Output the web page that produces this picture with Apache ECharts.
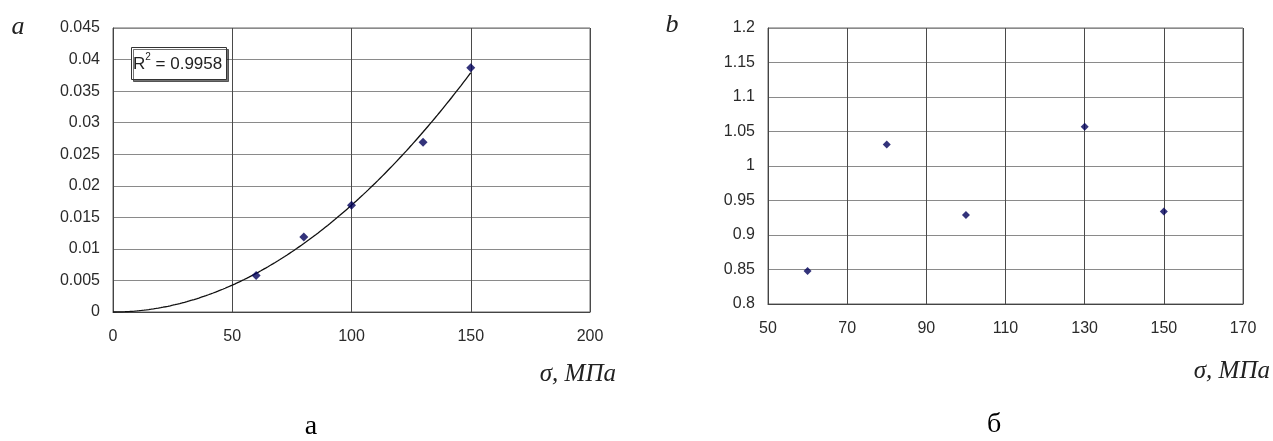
<!DOCTYPE html>
<html>
<head>
<meta charset="utf-8">
<script src="https://cdn.jsdelivr.net/npm/echarts@6/dist/echarts.min.js"></script>
<style>
  html, body { margin: 0; padding: 0; background: #fff; }
  #chart { width: 1273px; height: 441px; }
</style>
</head>
<body>
<div id="chart"></div>
<script>
// Panel a: deformation vs stress, with power-law trend line
const stressA = [60, 80, 100, 130, 150];
const strainA = [0.0058, 0.0119, 0.0169, 0.0269, 0.0387];
const r2Label = '0.9958';

// Panel b: ratio vs stress
const stressB = [60, 80, 100, 130, 150];
const ratioB = [0.848, 1.031, 0.929, 1.057, 0.934];

// Axis ranges / tick steps
const xA = { min: 0, max: 200, interval: 50 };
const yA = { min: 0, max: 0.045, interval: 0.005 };
const xB = { min: 50, max: 170, interval: 20 };
const yB = { min: 0.8, max: 1.2, interval: 0.05 };

// Least-squares power fit y = a * x^b (in log space)
function powerFit(xs, ys) {
  const lx = xs.map(Math.log), ly = ys.map(Math.log);
  const n = xs.length;
  const mx = lx.reduce((s, v) => s + v, 0) / n;
  const my = ly.reduce((s, v) => s + v, 0) / n;
  let sxy = 0, sxx = 0;
  for (let i = 0; i < n; i++) { sxy += (lx[i] - mx) * (ly[i] - my); sxx += (lx[i] - mx) ** 2; }
  const b = sxy / sxx;
  const a = Math.exp(my - b * mx);
  return { a, b };
}
const fit = powerFit(stressA, strainA);
const xEnd = Math.max(...stressA);
const trend = [];
for (let x = 0; x <= xEnd; x += 1) trend.push([x, fit.a * Math.pow(x, fit.b)]);

const tickFont = { fontFamily: 'Liberation Sans, Arial, sans-serif', fontSize: 16, color: '#2a2a2a' };
const serif = 'Liberation Serif, Times New Roman, serif';
const hGrid = { show: true, lineStyle: { color: '#8a8a8a', width: 1 } };
const vGrid = { show: true, lineStyle: { color: '#4a4a4a', width: 1 } };
const axisLn = { show: true, lineStyle: { color: '#444', width: 1 } };
const markColor = '#00005a';

function xAxis(idx, r) {
  return {
    type: 'value', gridIndex: idx, min: r.min, max: r.max, interval: r.interval,
    axisLine: axisLn, axisTick: { show: false }, splitLine: vGrid,
    axisLabel: Object.assign({ margin: 17, formatter: v => String(+v.toFixed(3)) }, tickFont)
  };
}
function yAxis(idx, r) {
  return {
    type: 'value', gridIndex: idx, min: r.min, max: r.max, interval: r.interval,
    axisLine: axisLn, axisTick: { show: false }, splitLine: hGrid,
    axisLabel: Object.assign({ margin: 13, formatter: v => String(+v.toFixed(3)) }, tickFont)
  };
}

const chart = echarts.init(document.getElementById('chart'), null, { renderer: 'canvas' });
chart.setOption({
  backgroundColor: '#fff',
  animation: false,
  grid: [
    { left: 113, top: 28, width: 477, height: 284, show: true, borderColor: '#666', borderWidth: 1, backgroundColor: '#fff' },
    { left: 768, top: 28, width: 475, height: 276, show: true, borderColor: '#666', borderWidth: 1, backgroundColor: '#fff' }
  ],
  xAxis: [xAxis(0, xA), xAxis(1, xB)],
  yAxis: [yAxis(0, yA), yAxis(1, yB)],
  series: [
    {
      type: 'line', xAxisIndex: 0, yAxisIndex: 0, data: trend, showSymbol: false,
      lineStyle: { color: '#111', width: 1.3 }, z: 3
    },
    {
      type: 'scatter', xAxisIndex: 0, yAxisIndex: 0,
      data: stressA.map((x, i) => [x, strainA[i]]),
      symbol: 'diamond', symbolSize: 9, itemStyle: { color: markColor }, z: 4
    },
    {
      type: 'scatter', xAxisIndex: 1, yAxisIndex: 1,
      data: stressB.map((x, i) => [x, ratioB[i]]),
      symbol: 'diamond', symbolSize: 8, itemStyle: { color: markColor }, z: 4
    }
  ],
  graphic: [
    // R² box
    {
      type: 'rect', left: 131, top: 47, z: 10,
      shape: { width: 95, height: 32 },
      style: { fill: '#fff', stroke: '#333', lineWidth: 1, shadowColor: 'rgba(0,0,0,0.55)', shadowOffsetX: 2, shadowOffsetY: 2, shadowBlur: 0 }
    },
    {
      type: 'text', left: 133, top: 52, z: 11,
      style: {
        text: '{r|R}{s|2}{r| = ' + r2Label + '}',
        rich: {
          r: { fontFamily: 'Liberation Sans, Arial, sans-serif', fontSize: 17, fill: '#222', verticalAlign: 'bottom', lineHeight: 21 },
          s: { fontFamily: 'Liberation Sans, Arial, sans-serif', fontSize: 10, fill: '#222', verticalAlign: 'top', lineHeight: 21, padding: [0, 0, 9, 0] }
        }
      }
    },
    // Panel letters
    { type: 'text', x: 18, y: 27, style: { text: 'a', font: 'italic 26px ' + serif, fill: '#222', align: 'center', verticalAlign: 'middle' } },
    { type: 'text', x: 672, y: 25, style: { text: 'b', font: 'italic 26px ' + serif, fill: '#222', align: 'center', verticalAlign: 'middle' } },
    // Axis names
    { type: 'text', x: 616, y: 374, style: { text: 'σ, МПа', font: 'italic 25px ' + serif, fill: '#222', align: 'right', verticalAlign: 'middle' } },
    { type: 'text', x: 1270, y: 371, style: { text: 'σ, МПа', font: 'italic 25px ' + serif, fill: '#222', align: 'right', verticalAlign: 'middle' } },
    // Sub-figure captions
    { type: 'text', x: 311, y: 427, style: { text: 'а', font: '28px ' + serif, fill: '#000', align: 'center', verticalAlign: 'middle' } },
    { type: 'text', x: 994, y: 425, style: { text: 'б', font: '28px ' + serif, fill: '#000', align: 'center', verticalAlign: 'middle' } }
  ]
});
</script>
</body>
</html>
